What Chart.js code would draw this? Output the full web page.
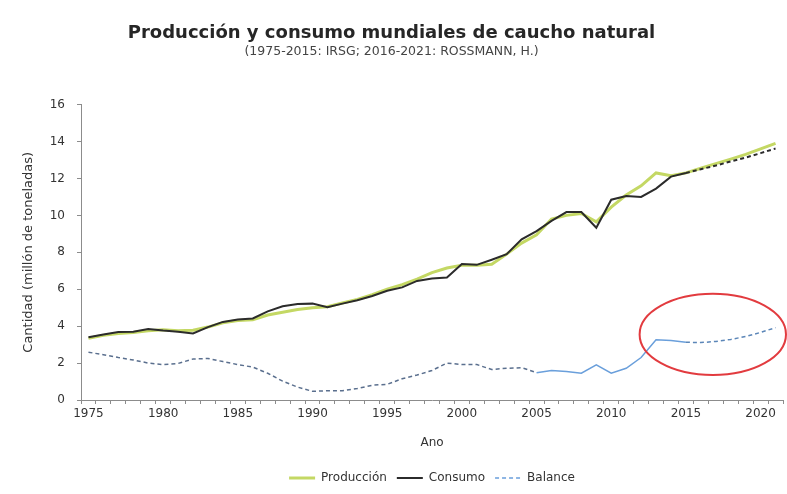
<!DOCTYPE html>
<html>
<head>
<meta charset="utf-8">
<script src="https://cdn.jsdelivr.net/npm/chart.js@4"></script>
<style>
  html, body { margin: 0; padding: 0; background: #ffffff; }
  #wrap { width: 787px; height: 494px; }
</style>
</head>
<body>
<div id="wrap"><canvas id="c" width="787" height="494"></canvas></div>
<script>
// ---- Data ----
const years = [];
for (let y = 1975; y <= 2021; y++) years.push(y);

const produccion = [
  3.35, 3.50, 3.60, 3.65, 3.75, 3.80, 3.75, 3.78, 3.95, 4.18,
  4.30, 4.35, 4.60, 4.75, 4.90, 5.00, 5.05, 5.25, 5.45, 5.70,
  6.00, 6.25, 6.55, 6.90, 7.15, 7.30, 7.30, 7.35, 7.90, 8.50,
  8.95, 9.80, 10.00, 10.10, 9.65, 10.45, 11.10, 11.60, 12.30, 12.15,
  12.30, 12.55, 12.80, 13.05, 13.30, 13.60, 13.90
];
const consumo = [
  3.40, 3.55, 3.68, 3.70, 3.84, 3.76, 3.70, 3.60, 3.95, 4.23,
  4.36, 4.42, 4.80, 5.08, 5.20, 5.22, 5.02, 5.22, 5.40, 5.63,
  5.92, 6.10, 6.45, 6.58, 6.63, 7.36, 7.32, 7.60, 7.90, 8.70,
  9.15, 9.70, 10.18, 10.18, 9.33, 10.85, 11.05, 11.00, 11.45, 12.10,
  12.30, 12.50, 12.70, 12.92, 13.13, 13.37, 13.62
];
const balance = [
  2.59, 2.45, 2.30, 2.17, 2.00, 1.92, 1.98, 2.22, 2.25, 2.08,
  1.92, 1.78, 1.45, 1.02, 0.70, 0.47, 0.50, 0.50, 0.62, 0.80,
  0.85, 1.15, 1.35, 1.60, 2.00, 1.92, 1.92, 1.65, 1.72, 1.75,
  1.48, 1.60, 1.55, 1.45, 1.90, 1.45, 1.72, 2.30, 3.26, 3.22,
  3.13, 3.11, 3.17, 3.28, 3.44, 3.66, 3.92
];
const yTicks = [0, 2, 4, 6, 8, 10, 12, 14, 16];
const legendOrder = ['Producción', 'Consumo', 'Balance'];
const forecastStartYear = 2015;   // consumption & balance dashed after this
const solidBalanceStart = 2005;   // balance solid 2005-2015
// highlight ellipse (data units)
const ellipse = { year: 2016.8, value: 3.55, rxYears: 4.9, ryValue: 2.2 };

const FONT = "'DejaVu Sans', sans-serif";
const idxForecast = years.indexOf(forecastStartYear);
const idxSolidB = years.indexOf(solidBalanceStart);
const DASH = [4, 3];

const ellipsePlugin = {
  id: 'ellipse',
  afterDatasetsDraw(chart) {
    const xs = chart.scales.x, ys = chart.scales.y, ctx = chart.ctx;
    const cx = xs.getPixelForValue(ellipse.year - years[0]);
    const cy = ys.getPixelForValue(ellipse.value);
    const rx = Math.abs(xs.getPixelForValue(ellipse.year - years[0] + ellipse.rxYears) - cx);
    const ry = Math.abs(ys.getPixelForValue(ellipse.value + ellipse.ryValue) - cy);
    ctx.save();
    ctx.beginPath();
    ctx.ellipse(cx, cy, rx, ry, 0, 0, Math.PI * 2);
    ctx.strokeStyle = '#e23b3f';
    ctx.lineWidth = 2;
    ctx.stroke();
    ctx.restore();
  }
};

new Chart(document.getElementById('c'), {
  type: 'line',
  data: {
    labels: years,
    datasets: [
      {
        label: 'Consumo',
        data: consumo,
        borderColor: '#2b2b2b',
        borderWidth: 2,
        pointRadius: 0,
        tension: 0,
        order: 1,
        legendDash: [],
        segment: {
          borderDash: ctx => ctx.p0DataIndex >= idxForecast ? DASH : undefined
        }
      },
      {
        label: 'Producción',
        data: produccion,
        borderColor: '#c4d864',
        borderWidth: 3,
        pointRadius: 0,
        tension: 0,
        order: 2,
        legendDash: []
      },
      {
        label: 'Balance',
        data: balance,
        borderColor: '#6a9fdb',
        borderWidth: 1.5,
        borderDash: DASH,
        pointRadius: 0,
        tension: 0,
        order: 0,
        legendDash: DASH,
        segment: {
          borderDash: ctx => (ctx.p0DataIndex >= idxSolidB && ctx.p0DataIndex < idxForecast) ? [] : DASH,
          borderColor: ctx => ctx.p0DataIndex < idxSolidB ? '#5a6f8e' :
                               (ctx.p0DataIndex < idxForecast ? '#6a9fdb' : '#5b86b8')
        }
      }
    ]
  },
  options: {
    responsive: false,
    animation: false,
    layout: { padding: { left: 0, right: 4, top: 0, bottom: 0 } },
    plugins: {
      title: {
        display: true,
        text: 'Producción y consumo mundiales de caucho natural',
        color: '#262626',
        font: { family: FONT, size: 18, weight: 'bold' },
        padding: { top: 23, bottom: 0 }
      },
      subtitle: {
        display: true,
        text: '(1975-2015: IRSG; 2016-2021: ROSSMANN, H.)',
        color: '#444444',
        font: { family: FONT, size: 12.5 },
        padding: { top: 0, bottom: 45 }
      },
      legend: {
        position: 'bottom',
        fullSize: false,
        labels: {
          color: '#333333',
          font: { family: FONT, size: 12 },
          usePointStyle: true,
          pointStyle: 'line',
          pointStyleWidth: 26,
          boxWidth: 26,
          boxHeight: 8,
          padding: 10,
          generateLabels: chart => {
            const items = Chart.defaults.plugins.legend.labels.generateLabels(chart);
            items.forEach(it => {
              const ds = chart.data.datasets[it.datasetIndex];
              it.lineDash = ds.legendDash || [];
            });
            return items;
          },
          sort: (a, b) => legendOrder.indexOf(a.text) - legendOrder.indexOf(b.text)
        }
      },
      tooltip: { enabled: false }
    },
    scales: {
      x: {
        type: 'category',
        offset: true,
        grid: { display: true, offset: true, drawOnChartArea: false, drawTicks: true, tickLength: 4, color: '#8c8c8c' },
        border: { display: true, color: '#8c8c8c', width: 1 },
        ticks: {
          autoSkip: false,
          maxRotation: 0,
          padding: 3,
          color: '#333333',
          font: { family: FONT, size: 12 },
          callback: function (val, idx) {
            const yr = years[idx];
            return yr % 5 === 0 ? String(yr) : '';
          }
        },
        title: {
          display: true,
          text: 'Ano',
          color: '#333333',
          font: { family: FONT, size: 12 },
          padding: { top: 4, bottom: 12 }
        },
        afterFit: s => { s.height = 62; }
      },
      y: {
        min: 0,
        max: 16,
        afterBuildTicks: s => { s.ticks = yTicks.map(v => ({ value: v })); },
        grid: { display: true, drawOnChartArea: false, drawTicks: true, tickLength: 4, color: '#8c8c8c' },
        border: { display: true, color: '#8c8c8c', width: 1 },
        ticks: {
          padding: 12,
          color: '#333333',
          font: { family: FONT, size: 12 }
        },
        title: {
          display: true,
          text: 'Cantidad (millón de toneladas)',
          color: '#333333',
          font: { family: FONT, size: 13 },
          padding: { top: 21, bottom: 0 }
        },
        afterFit: s => { s.width = 81; }
      }
    }
  },
  plugins: [ellipsePlugin]
});
</script>
</body>
</html>
